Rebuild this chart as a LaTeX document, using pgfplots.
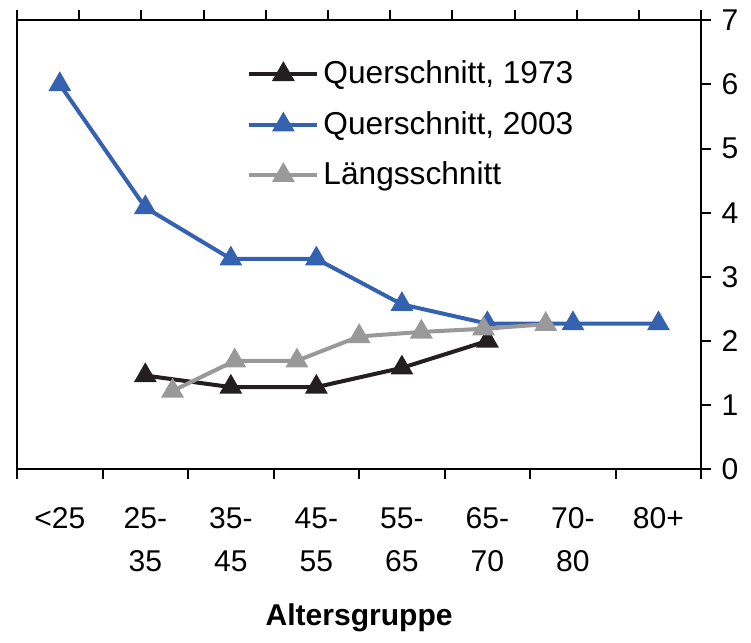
\documentclass[border=0pt]{standalone}
\usepackage{fontspec}
\setmainfont{Liberation Sans}
\usepackage{pgfplots}
\pgfplotsset{compat=1.18}

\definecolor{q73}{HTML}{231F20}
\definecolor{q03}{HTML}{3462B0}
\definecolor{lang}{HTML}{999999}

\begin{document}
\fontsize{15}{18}\selectfont
\begin{tikzpicture}
\pgfplotsset{
  every axis/.append style={
    width=341.5pt, height=224pt, scale only axis,
    ymin=0, ymax=7,
    /pgf/number format/assume math mode=true,
    axis line style={line width=1pt},
    tick style={line width=1pt, black},
    tick align=outside,
  },
  linestyle/.style={line width=2pt, mark=triangle*, mark size=4.6pt, mark options={solid}},
}
\begin{axis}[
  name=main,
  xmin=0, xmax=8,
  xtick={0.5,1.5,...,7.5},
  xticklabels={{<25},{25-\\35},{35-\\45},{45-\\55},{55-\\65},{65-\\70},{70-\\80},{80+}},
  xticklabel style={align=center, yshift=-9pt, text depth=0pt},
  major x tick style={draw=none},
  minor xtick={0,1,...,8},
  minor tick length=5pt,
  x tick label style={font=\fontsize{15}{21.5}\selectfont},
  xtick pos=bottom,
  ytick={0,1,...,7},
  ytick pos=right,
  yticklabel pos=right,
  major tick length=5pt,
  xlabel={\textbf{Altersgruppe}},
  xlabel style={yshift=-6pt},
  legend style={at={(rel axis cs:0.336,0.92)}, anchor=north west, draw=none, fill=none,
    inner sep=0pt, row sep=7.5pt, font=\fontsize{15.8}{18}\selectfont},
  legend cell align=left,
  legend image code/.code={\draw[mark repeat=2,mark phase=2,#1] plot coordinates {(0pt,0pt)(17pt,0pt)(34pt,0pt)};},
]
\addplot[q73, linestyle] coordinates {(1.5,1.46)(2.5,1.28)(3.5,1.28)(4.5,1.58)(5.5,2.0)};
\addlegendentry{Querschnitt, 1973}
\addplot[q03, linestyle] coordinates {(0.5,6.0)(1.5,4.08)(2.5,3.28)(3.5,3.28)(4.5,2.57)(5.5,2.27)(6.5,2.27)(7.5,2.27)};
\addlegendentry{Querschnitt, 2003}
\addlegendimage{lang, linestyle}
\addlegendentry{Längsschnitt}
\end{axis}
\begin{axis}[
  overlay,
  xmin=0, xmax=11,
  axis x line*=top,
  axis y line=none,
  xtick={0,1,...,11},
  xticklabels={},
  major tick length=5pt,
]
\addplot[lang, linestyle] coordinates {(2.5,1.22)(3.5,1.69)(4.5,1.69)(5.5,2.07)(6.5,2.14)(7.5,2.19)(8.5,2.26)};
\end{axis}
\path ([xshift=-8.5pt,yshift=10pt]main.north west);
\path ([xshift=1.3pt]main.outer east);
\end{tikzpicture}
\end{document}
